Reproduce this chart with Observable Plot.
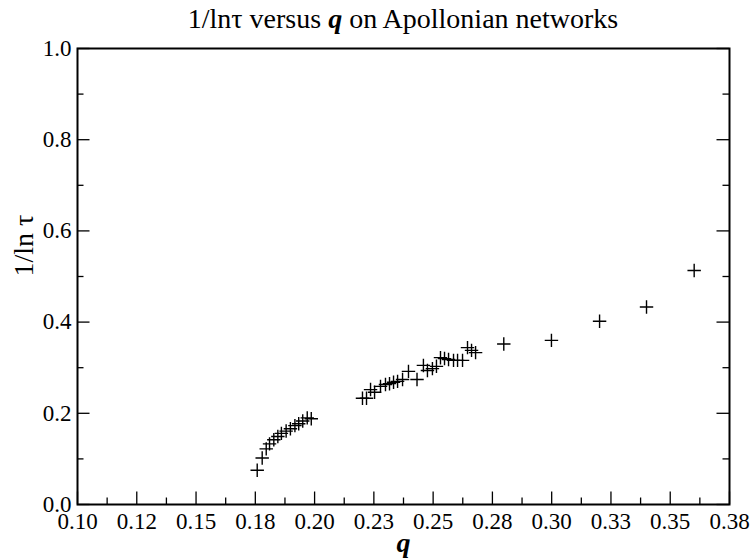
<!DOCTYPE html>
<html>
<head>
<meta charset="utf-8">
<script src="https://cdn.jsdelivr.net/npm/d3@7"></script>
<script src="https://cdn.jsdelivr.net/npm/@observablehq/plot@0.6"></script>
<style>
  html, body { margin: 0; padding: 0; background: #fff; }
  #title { width: 753px; height: 36px; box-sizing: border-box; padding-left: 77px; padding-right: 24px;
           text-align: center; font-family: "Liberation Serif", "Times New Roman", serif; font-size: 28px; line-height: 38px; color: #000;
           white-space: nowrap; }
</style>
</head>
<body>
<div id="title">1/lnτ versus <b><i>q</i></b> on Apollonian networks</div>
<div id="chart"></div>
<script>
// Data
const qValues = [
  0.1758, 0.1779, 0.1796, 0.1810, 0.1828, 0.1845, 0.1860, 0.1880, 0.1898, 0.1917, 0.1933, 0.1950, 0.1969, 0.1986,
  0.2202, 0.2219, 0.2236, 0.2253, 0.2278, 0.2299, 0.2316, 0.2333, 0.2350, 0.2371, 0.2396, 0.2432,
  0.2459, 0.2476, 0.2497, 0.2514, 0.2531, 0.2548, 0.2565, 0.2586, 0.2603, 0.2624, 0.2645, 0.2662, 0.2679,
  0.2798, 0.2999, 0.3202, 0.3400, 0.3601
];
const invLnTau = [
  0.075, 0.102, 0.122, 0.133, 0.142, 0.149, 0.156, 0.161, 0.166, 0.173, 0.177, 0.183, 0.190, 0.188,
  0.233, 0.233, 0.252, 0.246, 0.259, 0.263, 0.265, 0.268, 0.270, 0.274, 0.292, 0.274,
  0.305, 0.294, 0.298, 0.303, 0.322, 0.320, 0.318, 0.316, 0.316, 0.316, 0.344, 0.338, 0.333,
  0.352, 0.360, 0.402, 0.433, 0.513
];
const xMajorTicks = [0.1, 0.125, 0.15, 0.175, 0.2, 0.225, 0.25, 0.275, 0.3, 0.325, 0.35, 0.375];
const xTickLabels = ["0.10", "0.12", "0.15", "0.18", "0.20", "0.23", "0.25", "0.28", "0.30", "0.33", "0.35", "0.38"];
const xMinorTicks = [0.1125, 0.1375, 0.1625, 0.1875, 0.2125, 0.2375, 0.2625, 0.2875, 0.3125, 0.3375, 0.3625];
const yMajorTicks = [0, 0.2, 0.4, 0.6, 0.8, 1.0];
const yTickLabels = ["0.0", "0.2", "0.4", "0.6", "0.8", "1.0"];
const yMinorTicks = [0.1, 0.3, 0.5, 0.7, 0.9];

const points = qValues.map((q, i) => ({q, v: invLnTau[i]}));

const W = 753, H = 524;
const mL = 77, mR = 24, mT = 12, mB = 56;
const innerW = W - mL - mR, innerH = H - mT - mB;
const majorLen = 12.5, minorLen = 6.5;
const serif = "'Liberation Serif', 'Times New Roman', serif";

const chart = Plot.plot({
  width: W, height: H,
  marginLeft: mL, marginRight: mR, marginTop: mT, marginBottom: mB,
  style: {fontFamily: serif, fontSize: "23px", color: "#000", background: "#fff", overflow: "visible"},
  x: {domain: [0.1, 0.375], axis: null},
  y: {domain: [0, 1], axis: null},
  marks: [
    // bottom ticks (inward)
    Plot.tickX(xMajorTicks, {x: d => d, insetTop: innerH - majorLen, stroke: "#000", strokeWidth: 1.3}),
    Plot.tickX(xMinorTicks, {x: d => d, insetTop: innerH - minorLen, stroke: "#000", strokeWidth: 1.3}),
    // left ticks (inward)
    Plot.tickY(yMajorTicks, {y: d => d, insetRight: innerW - majorLen, stroke: "#000", strokeWidth: 1.3}),
    Plot.tickY(yMinorTicks, {y: d => d, insetRight: innerW - minorLen, stroke: "#000", strokeWidth: 1.3}),
    // right ticks (inward)
    Plot.tickY(yMajorTicks, {y: d => d, insetLeft: innerW - majorLen, stroke: "#000", strokeWidth: 1.3}),
    Plot.tickY(yMinorTicks, {y: d => d, insetLeft: innerW - minorLen, stroke: "#000", strokeWidth: 1.3}),
    // tick labels
    Plot.text(xMajorTicks, {x: d => d, frameAnchor: "bottom", dy: 8, lineAnchor: "top",
      text: (d, i) => xTickLabels[i], fontFamily: serif, fontSize: 23, fill: "#000"}),
    Plot.text(yMajorTicks, {y: d => d, frameAnchor: "left", dx: -6, textAnchor: "end",
      text: (d, i) => yTickLabels[i], fontFamily: serif, fontSize: 23, fill: "#000"}),
    // axis labels
    Plot.text(["1/ln τ"], {frameAnchor: "left", dx: -53, rotate: -90, text: d => d,
      fontFamily: serif, fontSize: 28, fill: "#000"}),
    Plot.text(["q"], {frameAnchor: "bottom", dy: 47, lineAnchor: "bottom", text: d => d,
      fontFamily: serif, fontSize: 28, fontWeight: "bold", fontStyle: "italic", fill: "#000"}),
    // data
    Plot.dot(points, {x: "q", y: "v", symbol: "plus", r: 4.4, stroke: "#000", strokeWidth: 1.4}),
    Plot.frame({stroke: "#000", strokeWidth: 2})
  ]
});
document.getElementById("chart").appendChild(chart);
</script>
</body>
</html>
